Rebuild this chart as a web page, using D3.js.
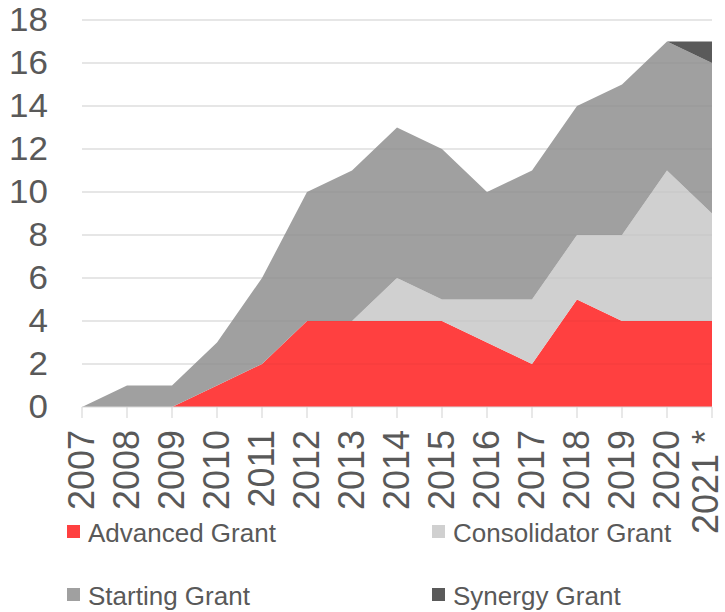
<!DOCTYPE html>
<html><head><meta charset="utf-8">
<script src="https://cdn.jsdelivr.net/npm/d3@7"></script>
<style>body{margin:0;background:#fff}svg{display:block}text{font-family:"Liberation Sans",Arial,sans-serif;fill:#595959}</style>
</head><body>
<svg id="c" width="725" height="612"></svg>
<script>
const years = ["2007","2008","2009","2010","2011","2012","2013","2014","2015","2016","2017","2018","2019","2020","2021 *"];
const advanced     = [0,0,0,1,2,4,4,4,4,3,2,5,4,4,4];
const consolidator = [0,0,0,0,0,0,0,2,1,2,3,3,4,7,5];
const starting     = [0,1,1,2,4,6,7,7,7,5,6,6,7,6,7];
const synergy      = [0,0,0,0,0,0,0,0,0,0,0,0,0,0,1];
const seriesNames  = ["Advanced Grant","Consolidator Grant","Starting Grant","Synergy Grant"];
const seriesColors = ["#FF4040","#D0D0D0","#A0A0A0","#5A5A5A"];
const yTicks = [0,2,4,6,8,10,12,14,16,18];

const svg = d3.select("#c");
const x = d3.scalePoint().domain(years).range([82,712]);
const y = d3.scaleLinear().domain([0,18]).range([407,20]);

const rows = years.map((yr,i)=>({year:yr, a:advanced[i], c:consolidator[i], s:starting[i], g:synergy[i]}));
const keys = ["a","c","s","g"];
const stacked = d3.stack().keys(keys)(rows);

svg.append("g").selectAll("line").data(yTicks.filter(d=>d>0)).join("line")
  .attr("x1",82).attr("x2",712).attr("y1",d=>y(d)).attr("y2",d=>y(d))
  .attr("stroke","#D9D9D9").attr("stroke-width",1.2);

const area = d3.area().x(d=>x(d.data.year)).y0(d=>y(d[0])).y1(d=>y(d[1]));
svg.append("g").selectAll("path").data(stacked).join("path")
  .attr("d",area).attr("fill",(d,i)=>seriesColors[i]);

svg.append("g").selectAll("line").data(yTicks.filter(d=>d>0)).join("line")
  .attr("x1",82).attr("x2",712).attr("y1",d=>y(d)).attr("y2",d=>y(d))
  .attr("stroke","#000").attr("stroke-opacity",0.05).attr("stroke-width",1.2);

svg.append("line").attr("x1",82).attr("x2",712).attr("y1",y(0)).attr("y2",y(0))
  .attr("stroke","#D9D9D9").attr("stroke-width",1.2);
svg.append("g").selectAll("line").data(years).join("line")
  .attr("x1",d=>x(d)).attr("x2",d=>x(d)).attr("y1",y(0)).attr("y2",y(0)+11)
  .attr("stroke","#D9D9D9").attr("stroke-width",1.2);

svg.append("g").selectAll("text").data(yTicks).join("text")
  .attr("transform",d=>`translate(48,${y(d)}) scale(1.06,1)`)
  .attr("text-anchor","end").attr("dy","0.34em")
  .style("font-size","33px").text(d=>d);

svg.append("g").selectAll("text").data(years).join("text")
  .attr("transform",d=>`translate(${Math.min(x(d)-0.5,705)},430) rotate(-90)`)
  .attr("text-anchor","end").attr("dy","0.36em")
  .style("font-size","36px").text(d=>d);

const legPos = [[67,525],[432,525],[67,588],[432,588]];
const lg = svg.append("g").selectAll("g").data(seriesNames).join("g")
  .attr("transform",(d,i)=>`translate(${legPos[i][0]},${legPos[i][1]})`);
lg.append("rect").attr("width",13).attr("height",13).attr("fill",(d,i)=>seriesColors[i]);
lg.append("text").attr("x",21).attr("y",17).style("font-size","26px").text(d=>d);
</script>
</body></html>
